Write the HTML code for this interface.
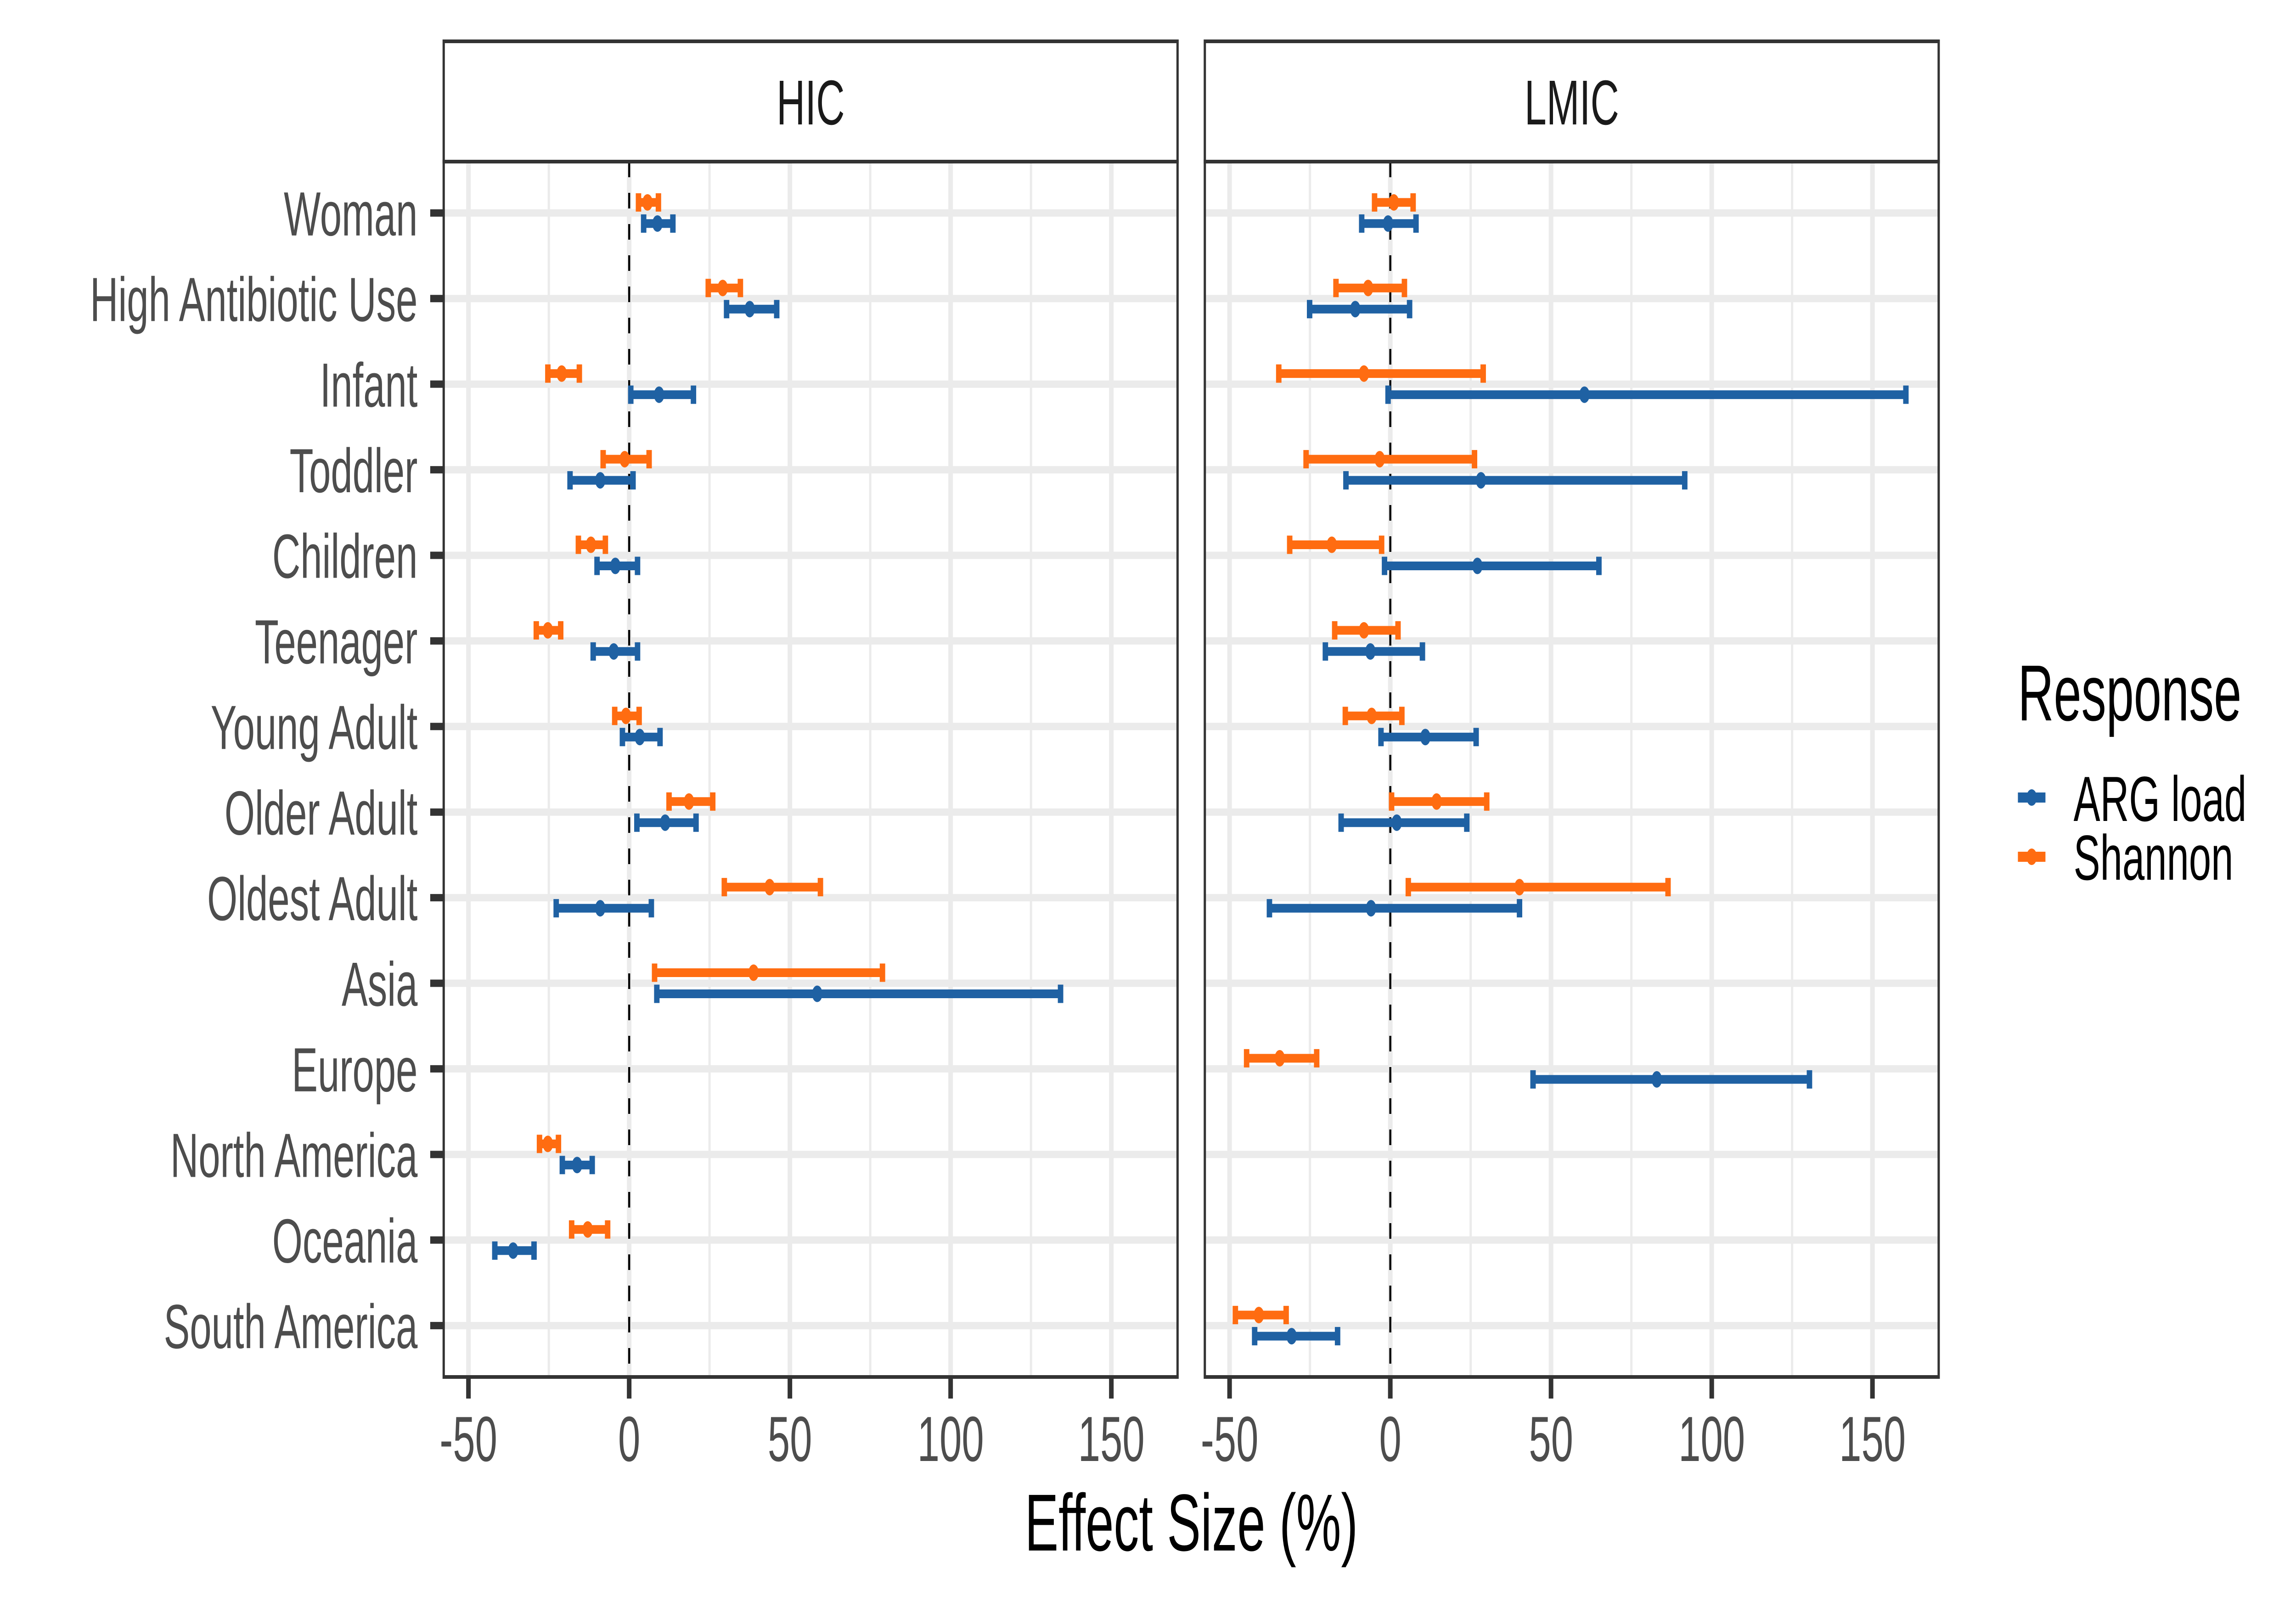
<!DOCTYPE html>
<html><head><meta charset="utf-8"><style>html,body{margin:0;padding:0;background:#fff;width:100%;height:100%;overflow:hidden}svg{display:block;width:100vw;height:100vh}</style></head>
<body>
<svg id="chart" xmlns="http://www.w3.org/2000/svg" viewBox="0 0 8000 3500" preserveAspectRatio="none" font-family="Liberation Sans, Arial, sans-serif">
<rect width="8000" height="3500" fill="#fff"/>
<g id="layer"></g>
<text x="4151" y="3377" font-size="176" text-anchor="middle" fill="#000">Effect Size (%)</text>
<g>
<text x="7031" y="1569" font-size="173" fill="#000">Response</text>
<g>
<line x1="7031" x2="7127" y1="1737" y2="1737" stroke="#1F61A3" stroke-width="22"/>
<circle cx="7079" cy="1737" r="18" fill="#1F61A3"/>
<text x="7225" y="1788" font-size="139" fill="#000">ARG load</text></g>
<g>
<line x1="7031" x2="7127" y1="1866" y2="1866" stroke="#FF6C11" stroke-width="22"/>
<circle cx="7079" cy="1866" r="18" fill="#FF6C11"/>
<text x="7225" y="1916" font-size="139" fill="#000">Shannon</text></g>
</g>
</svg>
<script>
const categories = ["Woman","High Antibiotic Use","Infant","Toddler","Children","Teenager","Young Adult","Older Adult","Oldest Adult","Asia","Europe","North America","Oceania","South America"];
const panels = ["HIC","LMIC"];
const xTicks = [-50,0,50,100,150];
const xMinor = [-25,25,75,125];
// HIC values (null = missing)
const hicArgEst = [8.8,37.5,9.3,-9,-4.3,-4.8,3.3,11.2,-9,58.5,null,-16.2,-36.1,null];
const hicArgLo  = [4.5,30.3,0.5,-18.4,-10,-11.2,-2.1,2.4,-22.7,8.6,null,-20.8,-41.8,null];
const hicArgHi  = [13.6,45.9,20,1.2,2.6,2.6,9.6,20.8,6.9,134.2,null,-11.5,-29.6,null];
const hicShEst  = [5.7,29.1,-21,-1.4,-11.9,-25.3,-1,18.6,43.7,38.7,null,-25.3,-12.9,null];
const hicShLo   = [2.9,24.6,-25.3,-8.1,-15.8,-28.9,-4.5,12.4,29.6,7.9,null,-27.9,-17.9,null];
const hicShHi   = [9.1,34.6,-15.5,6.2,-7.4,-21.3,3.1,26,59.5,78.8,null,-22,-6.7,null];
// LMIC values
const lmicArgEst = [-0.7,-10.9,60.4,28.2,27.1,-6.2,10.9,2,-6,null,82.9,null,null,-30.7];
const lmicArgLo  = [-8.9,-25.1,-0.7,-13.8,-1.8,-20.2,-2.9,-15.3,-37.6,null,44.4,null,null,-42.2];
const lmicArgHi  = [8,6,160.4,91.6,64.9,10,26.7,23.8,40.2,null,130.4,null,null,-16.4];
const lmicShEst  = [1.1,-6.9,-8.2,-3.3,-18.2,-8.2,-5.8,14.4,40.2,null,-34.4,null,null,-40.9];
const lmicShLo   = [-4.9,-16.9,-34.7,-26.2,-31.3,-17.3,-14,0.4,5.6,null,-44.7,null,null,-48.2];
const lmicShHi   = [7.1,4.4,28.9,26.2,-2.7,2.4,3.6,30,86.4,null,-22.9,null,null,-32.4];

const NS="http://www.w3.org/2000/svg";
const layer=document.getElementById('layer');
function mk(tag,attrs,parent){const e=document.createElementNS(NS,tag);for(const k in attrs)e.setAttribute(k,attrs[k]);(parent||layer).appendChild(e);return e;}
const panelLefts=[1546,4198], panelW=2557, pTop=352, pBot=2999, sTop=90;
const dMin=-57.7, dMax=170.6;
const nCat=categories.length;
const step=(pBot-pTop)/(nCat-1+1.2);
function yPos(i){return pTop+step*(0.6+i);}
function xPos(p,v){return panelLefts[p]+(v-dMin)/(dMax-dMin)*panelW;}
const BLUE="#1F61A3", ORANGE="#FF6C11";
const series=[
 [{est:hicArgEst,lo:hicArgLo,hi:hicArgHi,c:BLUE,off:23,n:'arg-load'},{est:hicShEst,lo:hicShLo,hi:hicShHi,c:ORANGE,off:-23,n:'shannon'}],
 [{est:lmicArgEst,lo:lmicArgLo,hi:lmicArgHi,c:BLUE,off:23,n:'arg-load'},{est:lmicShEst,lo:lmicShLo,hi:lmicShHi,c:ORANGE,off:-23,n:'shannon'}]
];
panels.forEach((pn,p)=>{
  const L=panelLefts[p], R=L+panelW;
  const g=mk('g',{});
  
  
  const strip=mk('rect',{x:L,y:sTop,width:panelW,height:pTop-sTop,fill:'#fff',stroke:'#333',"stroke-width":8},g);
  
  
  const st=mk('text',{x:(L+R)/2,y:271,"font-size":138,"text-anchor":"middle",fill:'#1A1A1A'},g);
  st.textContent=pn;
  
  
  xMinor.forEach(v=>{const l=mk('line',{x1:xPos(p,v),x2:xPos(p,v),y1:pTop,y2:pBot,stroke:'#EBEBEB',"stroke-width":8},g);
    
    });
  xTicks.forEach(v=>{const l=mk('line',{x1:xPos(p,v),x2:xPos(p,v),y1:pTop,y2:pBot,stroke:'#EBEBEB',"stroke-width":16},g);
    
    });
  categories.forEach((c,i)=>{const l=mk('line',{x1:L,x2:R,y1:yPos(i),y2:yPos(i),stroke:'#EBEBEB',"stroke-width":16},g);
    
    });
  const z=mk('line',{x1:xPos(p,0),x2:xPos(p,0),y1:pTop,y2:pBot,stroke:'#000',"stroke-width":7,"stroke-dasharray":"34 34"},g);
  
  
  series[p].forEach(s=>{
    categories.forEach((c,i)=>{
      if(s.est[i]==null)return;
      const y=yPos(i)+s.off, x1=xPos(p,s.lo[i]), x2=xPos(p,s.hi[i]);
      const eg=mk('g',{},g);
      
      
      mk('line',{x1:x1,x2:x2,y1:y,y2:y,stroke:s.c,"stroke-width":19},eg);
      mk('line',{x1:x1,x2:x1,y1:y-20,y2:y+20,stroke:s.c,"stroke-width":19},eg);
      mk('line',{x1:x2,x2:x2,y1:y-20,y2:y+20,stroke:s.c,"stroke-width":19},eg);
      mk('circle',{cx:xPos(p,s.est[i]),cy:y,r:18,fill:s.c},eg);
    });
  });
  const b=mk('rect',{x:L,y:pTop,width:panelW,height:pBot-pTop,fill:'none',stroke:'#333',"stroke-width":8},g);
  
  
  xTicks.forEach(v=>{
    const x=xPos(p,v);
    const t=mk('line',{x1:x,x2:x,y1:pBot,y2:pBot+47,stroke:'#333',"stroke-width":16},g);
    
    
    const tl=mk('text',{x:x,y:3182,"font-size":139,"text-anchor":"middle",fill:'#4D4D4D'},g);
    tl.textContent=String(v);
    
    
  });
});
categories.forEach((c,i)=>{
  const y=yPos(i);
  const t=mk('line',{x1:1499,x2:1546,y1:y,y2:y,stroke:'#333',"stroke-width":16});
  
  
  const tl=mk('text',{x:1455,y:y+49,"font-size":136,"text-anchor":"end",fill:'#4D4D4D'});
  tl.textContent=c;
  
  
});
</script>
</body></html>
